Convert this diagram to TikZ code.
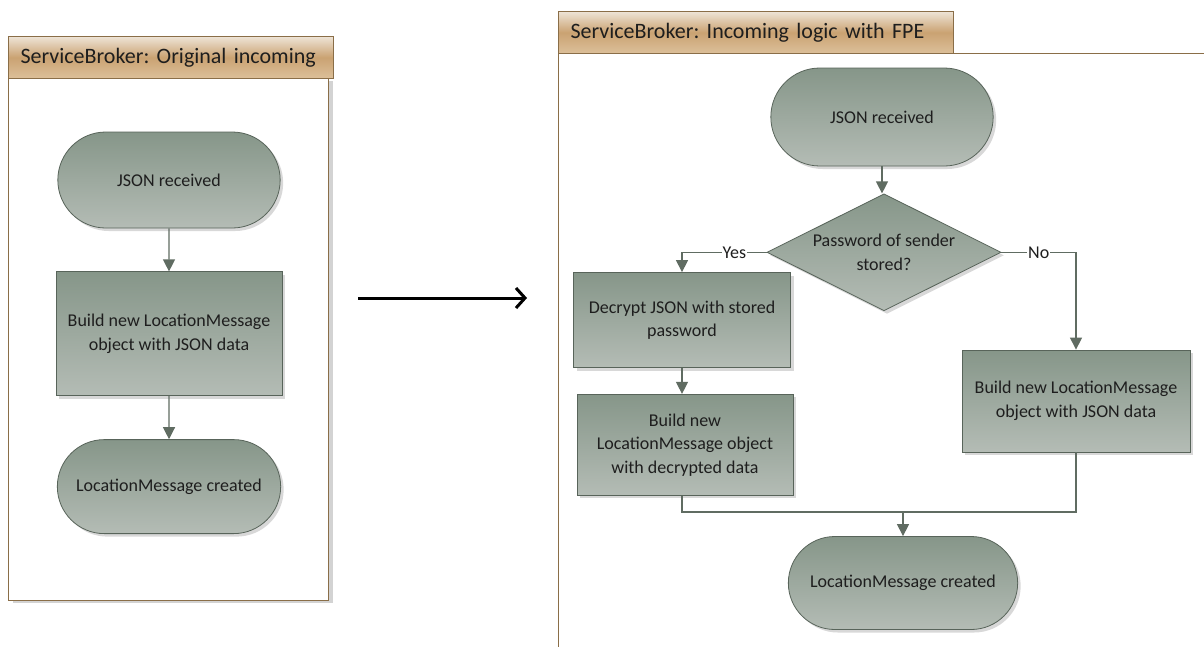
\documentclass[tikz,border=0pt]{standalone}
\usepackage{fontspec}
\setmainfont{Carlito}
\frenchspacing
\usetikzlibrary{shapes.geometric,shapes.misc,arrows.meta,positioning,shadows}
\definecolor{boxtop}{RGB}{134,150,137}
\definecolor{boxbot}{RGB}{180,188,181}
\definecolor{boxline}{RGB}{88,100,90}
\definecolor{flowline}{RGB}{96,108,98}
\definecolor{headtop}{RGB}{238,228,214}
\definecolor{headmid}{RGB}{202,162,114}
\definecolor{headbot}{RGB}{220,192,154}
\definecolor{headline}{RGB}{138,110,72}
\definecolor{txt}{RGB}{30,30,30}
\tikzset{
  lanehead/.style={draw=headline, line width=1pt, top color=headtop, bottom color=headbot, middle color=headmid, minimum height=42pt, inner xsep=12pt, inner ysep=0pt, anchor=north west, align=left, text=txt, font=\fontsize{22}{26}\selectfont},
  lanebody/.style={draw=headline, line width=1pt, fill=white, anchor=north west, inner sep=0pt},
  termbox/.style={rounded rectangle, draw=boxline, line width=0.8pt, top color=boxtop, bottom color=boxbot, align=center, text=txt, drop shadow={opacity=0.3, shadow xshift=3pt, shadow yshift=-3pt}},
  procbox/.style={rectangle, draw=boxline, line width=0.8pt, top color=boxtop, bottom color=boxbot, align=center, text=txt, drop shadow={opacity=0.3, shadow xshift=3pt, shadow yshift=-3pt}},
  decbox/.style={diamond, aspect=2, inner sep=0pt, draw=boxline, line width=0.8pt, top color=boxtop, bottom color=boxbot, align=center, text=txt, drop shadow={opacity=0.3, shadow xshift=3pt, shadow yshift=-3pt}},
  flow/.style={draw=flowline, line width=1.2pt, -{Triangle[length=12pt,width=12pt]}},
  joinline/.style={draw=flowline, line width=1.2pt},
  choice/.style={fill=white, inner sep=1pt, text=txt},
  bigarrow/.style={-{Straight Barb[length=9pt,width=20pt,line width=3pt]}, line width=3pt},
}

\begin{document}
\begin{tikzpicture}[x=1pt, y=-1pt, font=\fontsize{18}{23.5}\selectfont, node distance=43pt]
  \useasboundingbox (0,0) rectangle (1204,646);

  % lanes
  \node[lanebody, minimum width=320pt, minimum height=522pt, drop shadow={opacity=0.35, shadow xshift=4pt, shadow yshift=-2pt}] (lane1) at (8,78) {};
  \node[lanehead, text width=301pt] (head1) at (8,36) {ServiceBroker: Original incoming};
  \node[lanebody, minimum width=700pt, minimum height=640pt] (lane2) at (558,53) {};
  \node[lanehead, text width=371pt] (head2) at (558,11) {ServiceBroker: Incoming logic with FPE};

  % original flow
  \node[termbox, minimum width=229pt, minimum height=96pt] (s1) at (169,180) {JSON received};
  \node[procbox, below=of s1, minimum width=226pt, minimum height=124pt] (s2) {Build new LocationMessage\\object with JSON data};
  \node[termbox, below=of s2, minimum width=230pt, minimum height=94pt] (s3) {LocationMessage created};

  \foreach \a/\b in {s1/s2, s2/s3}
    \draw[flow] (\a) -- (\b);

  % big arrow between lanes
  \coordinate (go1) at (358,298);
  \coordinate (go2) at (527,298);
  \draw[bigarrow] (go1) -- (go2);

  % flow with FPE
  \node[termbox, minimum width=229pt, minimum height=98pt] (r1) at (882,117) {JSON received};
  \node[decbox, below=27pt of r1, xshift=2pt, minimum width=234pt, minimum height=117pt] (pw) {Password of sender\\stored?};
  \node[procbox, minimum width=217pt, minimum height=95pt] (dec) at (682,320) {Decrypt JSON with stored\\password};
  \node[procbox, below=26pt of dec, xshift=3pt, minimum width=216pt, minimum height=101pt] (bdec) {Build new\\LocationMessage object\\with decrypted data};
  \node[procbox, minimum width=228pt, minimum height=102pt] (bjson) at (1076,401) {Build new LocationMessage\\object with JSON data};
  \node[termbox, minimum width=236pt, minimum height=93pt] (r2) at (903,583) {LocationMessage created};

  \draw[flow] (r1.south -| 882,0) -- (pw.north -| 882,0);
  \draw[flow] (pw.west) -- node[choice, pos=0.38] {Yes} (pw.west -| dec.north) -- (dec.north);
  \draw[flow] (pw.east) -- node[choice, pos=0.5] {No} (pw.east -| bjson.north) -- (bjson.north);
  \draw[flow] (dec.south) -- (dec.south |- bdec.north);
  \coordinate (mrg) at (r2.north |- 0,512);
  \draw[joinline] (dec.south |- bdec.south) |- (mrg) -| (bjson.south);
  \draw[flow] (mrg) -- (r2.north);
\end{tikzpicture}
\end{document}
